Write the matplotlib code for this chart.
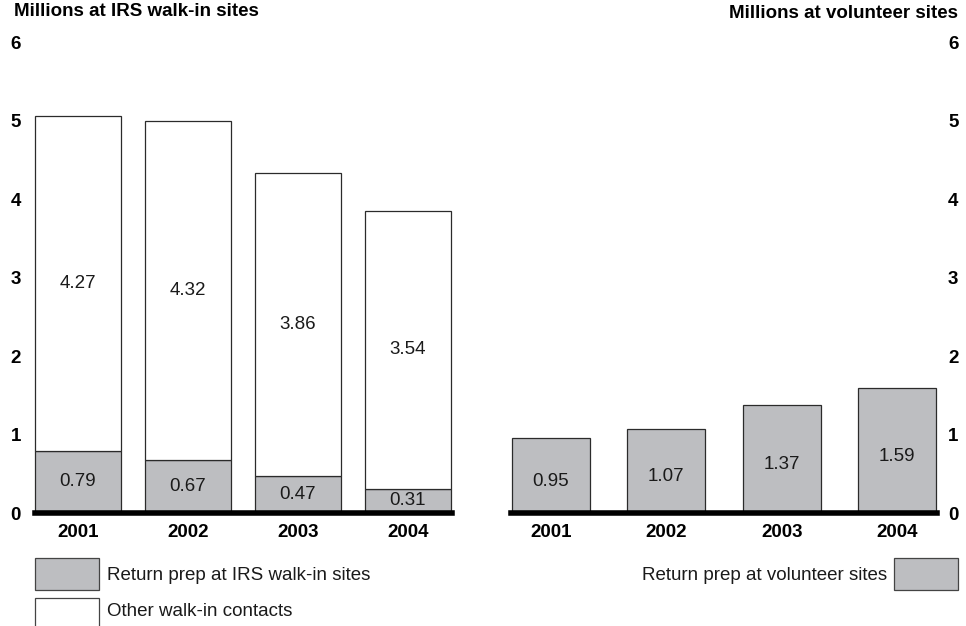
import matplotlib
matplotlib.use("Agg")
import matplotlib.pyplot as plt
from matplotlib.patches import Rectangle

plt.rcParams['font.family'] = ['Liberation Sans', 'DejaVu Sans']

# Data
years = ["2001", "2002", "2003", "2004"]
irsReturnPrep = [0.79, 0.67, 0.47, 0.31]
irsOtherContacts = [4.27, 4.32, 3.86, 3.54]
volunteerReturnPrep = [0.95, 1.07, 1.37, 1.59]
yTicks = [0, 1, 2, 3, 4, 5, 6]

gray = "#bdbec1"
edge = "#2b2b2b"
W, H = 966, 626
FS = 13.5

fig = plt.figure(figsize=(9.66, 6.26), dpi=100)

def px(x0, y0, x1, y1):
    # pixel box (top-left origin) -> figure fraction rect
    return [x0 / W, 1 - y1 / H, (x1 - x0) / W, (y1 - y0) / H]

axL = fig.add_axes(px(35, 42, 452, 513))
axR = fig.add_axes(px(511, 42, 937, 513))

pos = range(len(years))

# Left: stacked bars
b1 = axL.bar(pos, irsReturnPrep, width=0.78, color=gray, edgecolor=edge, linewidth=0.9)
b2 = axL.bar(pos, irsOtherContacts, width=0.78, bottom=irsReturnPrep, color="white",
             edgecolor=edge, linewidth=0.9)
for i in pos:
    axL.text(i, irsReturnPrep[i] / 2, f"{irsReturnPrep[i]:.2f}", ha="center",
             va="center", fontsize=FS, color="#1a1a1a")
    axL.text(i, irsReturnPrep[i] + irsOtherContacts[i] / 2, f"{irsOtherContacts[i]:.2f}",
             ha="center", va="center", fontsize=FS, color="#1a1a1a")
axL.set_xlim(-0.39, 3.40)

# Right: volunteer bars
b3 = axR.bar(pos, volunteerReturnPrep, width=0.675, color=gray, edgecolor=edge, linewidth=0.9)
for i in pos:
    axR.text(i, volunteerReturnPrep[i] / 2 - 0.07, f"{volunteerReturnPrep[i]:.2f}",
             ha="center", va="center", fontsize=FS, color="#1a1a1a")
axR.set_xlim(-0.345, 3.345)
axR.yaxis.tick_right()

for bars in (b1, b2, b3):
    for r in bars:
        r.set_clip_on(False)

for ax in (axL, axR):
    ax.set_ylim(0, 6)
    ax.axhline(0, color="black", linewidth=4, zorder=5, clip_on=False)
    ax.set_xticks(list(pos))
    ax.set_xticklabels(years, fontsize=FS, fontweight="bold")
    ax.set_yticks(yTicks)
    ax.set_yticklabels([str(t) for t in yTicks], fontsize=FS, fontweight="bold")
    ax.tick_params(length=0)
    ax.tick_params(axis="x", pad=8)
    for s in ax.spines.values():
        s.set_visible(False)
axL.tick_params(axis="y", pad=10)
axR.tick_params(axis="y", pad=8)

fig.text(14 / W, 1 - 12 / H, "Millions at IRS walk-in sites", fontsize=FS,
         fontweight="bold", ha="left", va="center")
fig.text(958 / W, 1 - 14 / H, "Millions at volunteer sites", fontsize=FS,
         fontweight="bold", ha="right", va="center")

# Legends
def legbox(x0, y0, x1, y1, fc):
    fig.patches.append(Rectangle((x0 / W, 1 - y1 / H), (x1 - x0) / W, (y1 - y0) / H,
                                 transform=fig.transFigure, facecolor=fc,
                                 edgecolor="#444444", linewidth=0.9))

legbox(35, 558, 99, 590, gray)
fig.text(107 / W, 1 - 575 / H, "Return prep at IRS walk-in sites", fontsize=FS,
         ha="left", va="center", color="#1a1a1a")
legbox(35, 598, 99, 630, "white")
fig.text(107 / W, 1 - 612 / H, "Other walk-in contacts", fontsize=FS,
         ha="left", va="center", color="#1a1a1a")
legbox(894, 558, 958, 590, gray)
fig.text(887 / W, 1 - 575 / H, "Return prep at volunteer sites", fontsize=FS,
         ha="right", va="center", color="#1a1a1a")

fig.savefig("out.png", dpi=100)
